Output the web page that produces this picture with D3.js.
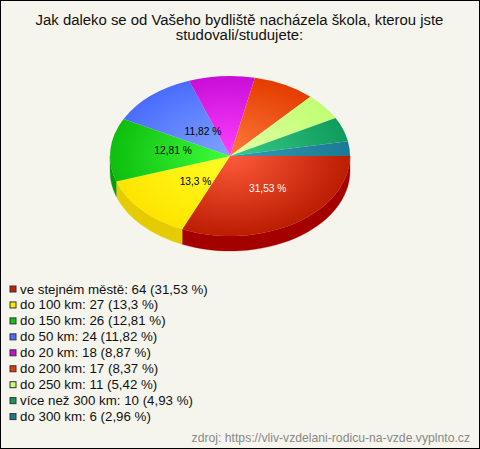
<!DOCTYPE html>
<html><head><meta charset="utf-8">
<script src="https://cdn.jsdelivr.net/npm/d3@7"></script>
<style>html,body{margin:0;padding:0;background:#fff}svg{display:block}text{font-family:"Liberation Sans",Arial,sans-serif}</style>
</head><body><div id="chart"></div>
<script>
const titleLines = ["Jak daleko se od Vašeho bydliště nacházela škola, kterou jste","studovali/studujete:"];
const categories = ["ve stejném městě","do 100 km","do 150 km","do 50 km","do 20 km","do 200 km","do 250 km","více než 300 km","do 300 km"];
const counts = [64,27,26,24,18,17,11,10,6];
const percents = ["31,53","13,3","12,81","11,82","8,87","8,37","5,42","4,93","2,96"];
const innerColors = ["#ff5a3c","#ffff24","#3cff3c","#80a4ff","#ff40ff","#ff7a3c","#e2ffa6","#38cc88","#3a9ab5"];
const outerColors = ["#bb1d00","#ffe400","#0ebe0e","#4a6cff","#c80ed8","#e43c00","#c0ff72","#0f9b5c","#1a7a96"];
const sideColors  = ["#a50000","#e5cc00","#0a9a0a","#3a55cc","#a00ab0","#b83000","#99cc5a","#0c7c4a","#156078"];
const swatchColors= ["#c42000","#ffe800","#0ec40e","#4a6cff","#c80ed8","#e43c00","#c8ff78","#0f9b5c","#1a7a96"];
const labelFractions = [0.52,0.43,0.476,0.38,0,0,0,0,0];
const labelNudgeX = [3.5,3.5,0,3,0,0,0,0,0];
const labelNudgeY = [-2,2,-3,-2,0,0,0,0,0];
const footer = "zdroj: https://vliv-vzdelani-rodicu-na-vzde.vyplnto.cz";

const W=480,H=449,cx=230,cy=156,rx=120,ry=80,depth=15;
const svg=d3.select("#chart").append("svg").attr("width",W).attr("height",H);
svg.append("rect").attr("x",.5).attr("y",.5).attr("width",W-1).attr("height",H-1).attr("fill","#f5f5ed").attr("stroke","#000");
svg.append("line").attr("x1",0).attr("x2",W).attr("y1",H-.5).attr("y2",H-.5).attr("stroke","#000");

svg.selectAll("text.title").data(titleLines).join("text").attr("class","title")
 .attr("x",239.5).attr("y",(d,i)=>25+i*15).attr("text-anchor","middle").attr("font-size",14.9).attr("fill","#111").text(d=>d);

const arcs=d3.pie().sort(null).startAngle(Math.PI/2).endAngle(Math.PI/2+2*Math.PI)(counts);
const defs=svg.append("defs");
arcs.forEach((a,i)=>{
  const g=defs.append("radialGradient").attr("id","g"+i).attr("gradientUnits","userSpaceOnUse")
    .attr("cx",0).attr("cy",0).attr("r",rx);
  g.append("stop").attr("offset",0).attr("stop-color",innerColors[i]);
  g.append("stop").attr("offset",1).attr("stop-color",outerColors[i]);
});
const pt=(t,dy=0)=>[cx+rx*Math.cos(t),cy+dy+ry*Math.sin(t)];
const side=svg.append("g");
arcs.forEach((a,i)=>{
  const t0=a.startAngle-Math.PI/2,t1=Math.min(a.endAngle-Math.PI/2,Math.PI);
  if(t0>=Math.PI) return;
  const p0=pt(t0),p1=pt(t1),q1=pt(t1,depth),q0=pt(t0,depth);
  side.append("path").attr("fill",sideColors[i]).attr("stroke",sideColors[i]).attr("stroke-width",.3)
   .attr("d",`M${p0}A${rx},${ry} 0 0 1 ${p1}L${q1}A${rx},${ry} 0 0 0 ${q0}Z`);
});
const face=svg.append("g").attr("transform",`translate(${cx},${cy}) scale(1,${ry/rx})`);
const arcGen=d3.arc().innerRadius(0).outerRadius(rx);
face.selectAll("path").data(arcs).join("path").attr("d",arcGen).attr("fill",(d,i)=>`url(#g${i})`);

arcs.forEach((a,i)=>{
  if(!labelFractions[i]) return;
  const t=(a.startAngle+a.endAngle)/2-Math.PI/2,f=labelFractions[i];
  svg.append("text").attr("x",cx+rx*f*Math.cos(t)+labelNudgeX[i]).attr("y",cy+ry*f*Math.sin(t)+3.5+labelNudgeY[i])
   .attr("text-anchor","middle").attr("font-size",10.2).attr("fill",i===0?"#fff":"#000").text(percents[i]+" %");
});

const rowH=15.95,ly=289;
const leg=svg.selectAll("g.leg").data(categories).join("g").attr("class","leg").attr("transform",(d,i)=>`translate(0,${ly+i*rowH})`);
leg.append("rect").attr("x",10).attr("y",-3).attr("width",6).attr("height",6).attr("fill",(d,i)=>swatchColors[i]).attr("stroke","#333");
leg.append("text").attr("x",20).attr("y",4.5).attr("font-size",13.3).attr("fill","#111").text((d,i)=>`${d}: ${counts[i]} (${percents[i]} %)`);

svg.append("text").attr("x",470).attr("y",441.5).attr("text-anchor","end").attr("font-size",12.2).attr("fill","#888").text(footer);
</script></body></html>
